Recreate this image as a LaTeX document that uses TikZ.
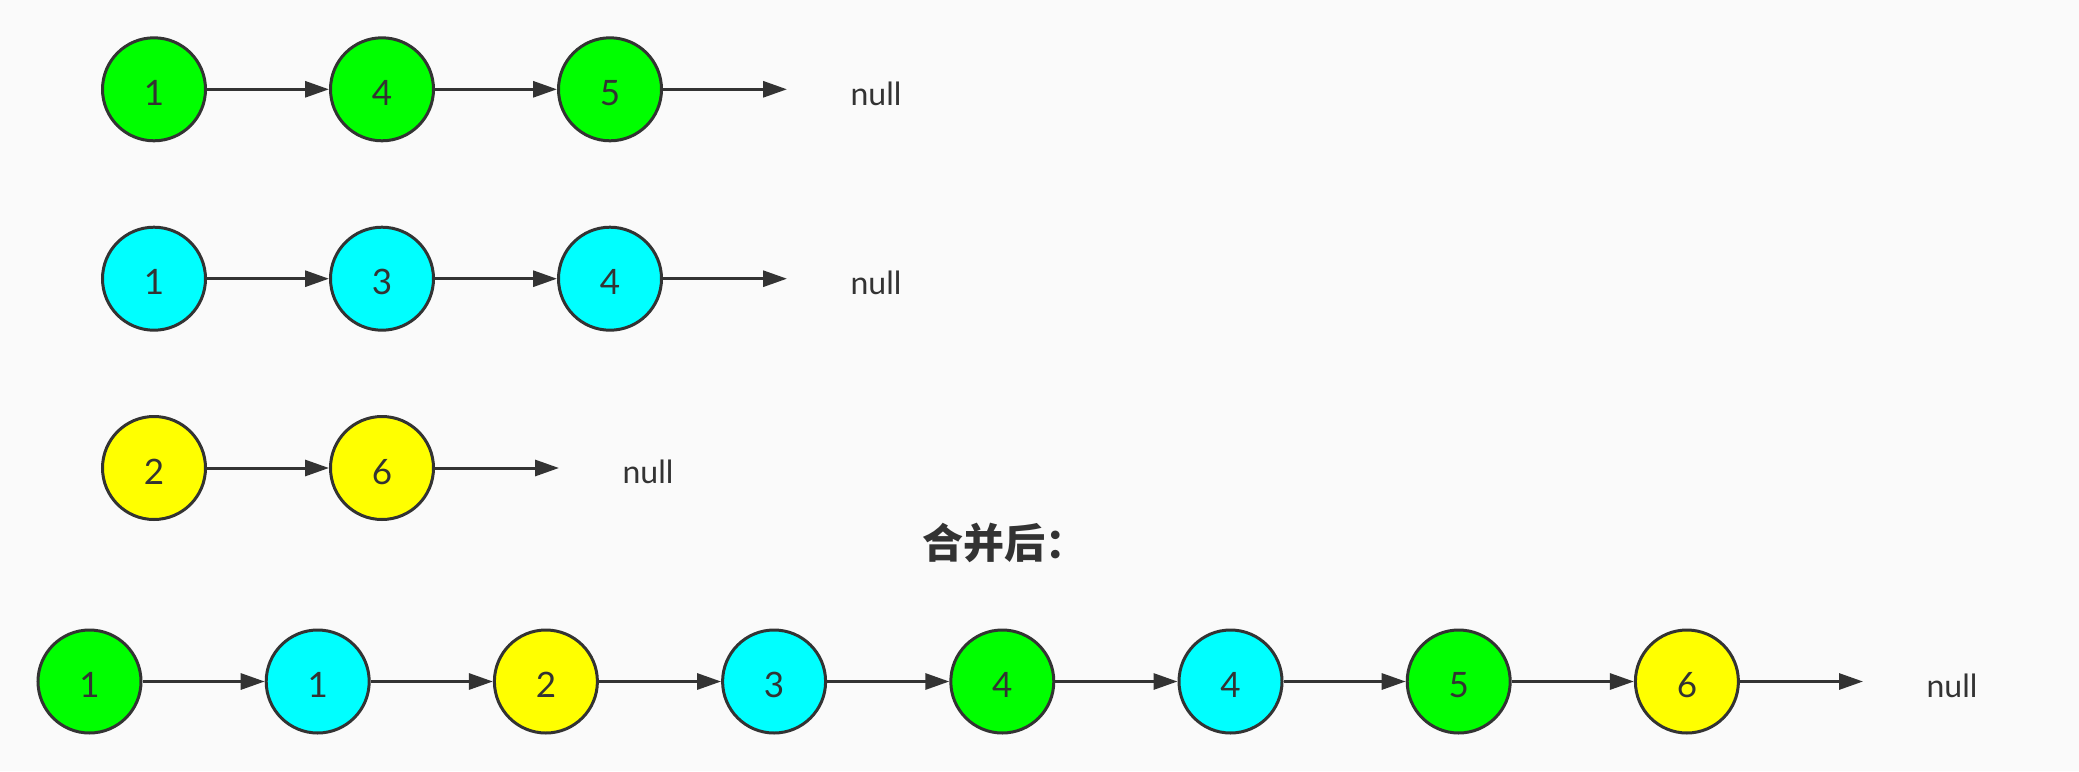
\documentclass[tikz,border=0pt]{standalone}
\usepackage{fontspec}
\setmainfont{Lato}
\newfontfamily\cjk{Noto Sans CJK SC}
\usetikzlibrary{arrows.meta}
\definecolor{bg}{HTML}{FAFAFA}
\definecolor{ink}{HTML}{333333}
\definecolor{cgreen}{HTML}{00FF00}
\definecolor{ccyan}{HTML}{00FFFF}
\definecolor{cyellow}{HTML}{FFFF00}
\tikzset{
  lnode/.style={circle,draw=ink,line width=3pt,minimum size=103pt,inner sep=0pt},
  gnode/.style={lnode,fill=cgreen},
  cnode/.style={lnode,fill=ccyan},
  ynode/.style={lnode,fill=cyellow},
  lbl/.style={anchor=base,text=ink,font=\fontsize{35}{40}\selectfont},
  nulltxt/.style={anchor=base,text=ink,font=\fontsize{32}{38}\selectfont},
  link/.style={draw=ink,line width=3pt,-{Triangle[length=24pt,width=16pt]}},
}
\begin{document}
\begin{tikzpicture}[x=1pt,y=-1pt]
\fill[bg] (0,0) rectangle (2079,771);
\useasboundingbox (0,0) rectangle (2079,771);
% row 1
\node[gnode] (a1) at (154,89.3) {};
\node[gnode] (a2) at (382,89.3) {};
\node[gnode] (a3) at (610,89.3) {};
\coordinate (ae) at (787,89.3);
\node[nulltxt] (an) at (876,105) {null};
% row 2
\node[cnode] (b1) at (154,278.7) {};
\node[cnode] (b2) at (382,278.7) {};
\node[cnode] (b3) at (610,278.7) {};
\coordinate (be) at (787,278.7);
\node[nulltxt] (bn) at (876,294.5) {null};
% row 3
\node[ynode] (c1) at (154,468) {};
\node[ynode] (c2) at (382,468) {};
\coordinate (ce) at (559,468);
\node[nulltxt] (cn) at (648,483.5) {null};
% title
\node[anchor=base west,text=ink,inner sep=0pt,font=\cjk\bfseries\fontsize{41}{48}\selectfont] (t) at (922,558) {合并后：};
% row 4
\node[gnode] (d1) at (89.5,681.5) {};
\node[cnode] (d2) at (317.7,681.5) {};
\node[ynode] (d3) at (545.9,681.5) {};
\node[cnode] (d4) at (774.1,681.5) {};
\node[gnode] (d5) at (1002.3,681.5) {};
\node[cnode] (d6) at (1230.5,681.5) {};
\node[gnode] (d7) at (1458.7,681.5) {};
\node[ynode] (d8) at (1686.9,681.5) {};
\coordinate (de) at (1863,681.5);
\node[nulltxt] (dn) at (1952,697) {null};
% labels
\foreach \n/\t in {a1/1,a2/4,a3/5,b1/1,b2/3,b3/4,c1/2,c2/6,d1/1,d2/1,d3/2,d4/3,d5/4,d6/4,d7/5,d8/6}{
  \node[lbl] at ([yshift=-16pt]\n.center) {\t};
}
% links
\draw[link] (a1) -- (a2);
\draw[link] (a2) -- (a3);
\draw[link] (a3) -- (ae);
\draw[link] (b1) -- (b2);
\draw[link] (b2) -- (b3);
\draw[link] (b3) -- (be);
\draw[link] (c1) -- (c2);
\draw[link] (c2) -- (ce);
\draw[link] (d1) -- (d2);
\draw[link] (d2) -- (d3);
\draw[link] (d3) -- (d4);
\draw[link] (d4) -- (d5);
\draw[link] (d5) -- (d6);
\draw[link] (d6) -- (d7);
\draw[link] (d7) -- (d8);
\draw[link] (d8) -- (de);
\end{tikzpicture}
\end{document}
